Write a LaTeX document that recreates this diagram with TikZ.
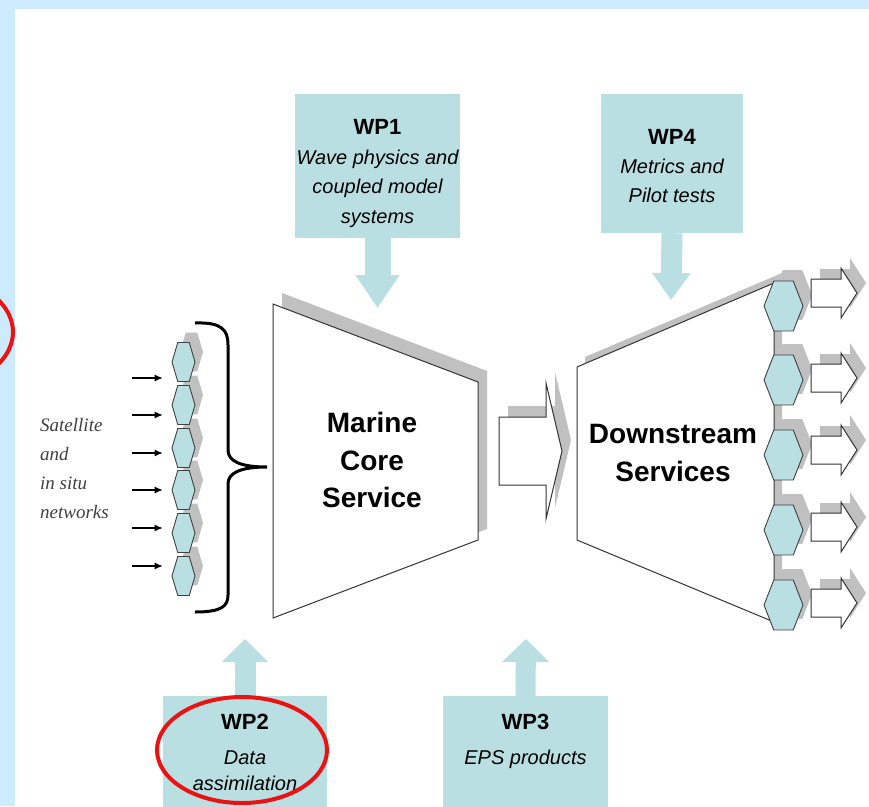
\documentclass[tikz,border=0pt]{standalone}
\usepackage{fontspec}
\setmainfont{Liberation Sans}
\newfontfamily\netfont{Liberation Serif}
\usetikzlibrary{arrows.meta,shapes.geometric,calc}

\definecolor{wpteal}{RGB}{186,223,227}
\definecolor{framebg}{RGB}{204,235,255}
\definecolor{shadowgray}{RGB}{192,192,192}
\definecolor{ringred}{RGB}{236,18,18}
\newcommand{\wptitle}[1]{{\upshape\bfseries\fontsize{22}{27}\selectfont #1}}

\begin{document}
\begin{tikzpicture}[
  x=1pt, y=-1pt,
  wpbox/.style={fill=wpteal, align=center, inner sep=2pt, font=\fontsize{20}{29.5}\selectfont\itshape},
  bigtxt/.style={align=center, inner sep=0pt, font=\fontsize{28}{37.5}\selectfont\bfseries},
  nettext/.style={align=left, inner sep=0pt, text=black!75, font=\netfont\itshape\fontsize{19}{29}\selectfont},
  outline/.style={draw=black!80, line width=1pt, fill=white},
  bighex/.style={regular polygon, regular polygon sides=6, minimum size=57.7pt, inner sep=0pt, xscale=0.676},
  smallhex/.style={regular polygon, regular polygon sides=6, minimum size=45pt, inner sep=0pt, xscale=0.511},
  hexcol/.style={fill=wpteal, draw=black!75, line width=0.9pt},
  feed/.style={-{Latex[length=8pt,width=7pt]}, line width=1.2pt, shorten >=9pt},
  brace/.style={line width=3pt},
  ring/.style={draw=ringred, line width=4pt}
]
\useasboundingbox (0,0) rectangle (869,806);
\clip (0,0) rectangle (869,806);
% frame
\fill[framebg] (0,0) rectangle (869,806);
\fill[white] (15,9) rectangle (869,806);
\draw[ring] (-72,332) ellipse [x radius=85, y radius=57];

% work packages
\node[wpbox, minimum width=163pt, minimum height=144pt] (wp1) at (377.5,166)
  {\rule{0pt}{30pt}\wptitle{WP1}\\Wave physics and\\coupled model\\systems};
\node[wpbox, minimum width=142pt, minimum height=139pt, font=\fontsize{20}{29}\selectfont\itshape] (wp4) at (672,163.5)
  {\rule{0pt}{20.8pt}\wptitle{WP4}\\Metrics and\\Pilot tests};
\node[wpbox, anchor=north, minimum width=164pt, inner ysep=18pt, text depth=70pt,
  font=\fontsize{20}{26.5}\selectfont\itshape] (wp2) at (245,696)
  {\wptitle{WP2}\\[8pt]Data\\assimilation};
\node[wpbox, anchor=north, minimum width=165pt, inner ysep=18pt, text depth=70pt,
  font=\fontsize{20}{26.5}\selectfont\itshape] (wp3) at (525.5,696)
  {\wptitle{WP3}\\[8pt]EPS products};

\coordinate (mcs-in) at (377.5,308);
\coordinate (dss-in) at (671,300);
\coordinate (da-in) at (245,639);
\coordinate (eps-in) at (526,639);
\draw[draw=wpteal, line width=26pt, -{Triangle[length=33pt,width=42pt]}] (wp1.south) -- (mcs-in);
\draw[draw=wpteal, line width=21pt, -{Triangle[length=27pt,width=37pt]}] (wp4.south) -- (dss-in);
\draw[draw=wpteal, line width=21pt, -{Triangle[length=23pt,width=45pt]}] (wp2.north) -- (da-in);
\draw[draw=wpteal, line width=20pt, -{Triangle[length=23pt,width=46pt]}] (wp3.north) -- (eps-in);

% marine core service
\fill[shadowgray, shift={(9,-11)}] (273,304) -- (478,382) -- (478,540) -- (273,618) -- cycle;
\draw[outline] (273,304) -- (478,382) -- (478,540) -- (273,618) -- cycle;
\node[bigtxt] (mcs) at (372,460) {Marine\\Core\\Service};

% flow to downstream
\fill[shadowgray, shift={(9,-11)}] (499,417) -- (546,417) -- (546,383) -- (562,451) -- (546,519) -- (546,485) -- (499,485) -- cycle;
\draw[outline] (499,417) -- (546,417) -- (546,383) -- (562,451) -- (546,519) -- (546,485) -- (499,485) -- cycle;

% downstream services
\fill[shadowgray, shift={(8,-10)}] (577,367) -- (774,283) -- (774,622) -- (577,540) -- cycle;
\draw[outline] (577,367) -- (774,283) -- (774,622) -- (577,540) -- cycle;
\node[bigtxt] (dss) at (673,453) {Downstream\\Services};

\foreach \i/\y in {1/306,2/380,3/455,4/530,5/605}
  \node[bighex, fill=shadowgray] (rs\i) at (792.5,\y-11) {};
\foreach \i/\y in {1/306,2/380,3/455,4/530,5/605}
  \node[bighex, hexcol] (rh\i) at (783.5,\y) {};
\foreach \y in {293,378,450,527,603} {
  \fill[shadowgray, shift={(9,-10)}] (811,\y-14) -- (841,\y-14) -- (841,\y-25) -- (857,\y) -- (841,\y+25) -- (841,\y+14) -- (811,\y+14) -- cycle;
  \draw[outline] (811,\y-14) -- (841,\y-14) -- (841,\y-25) -- (857,\y) -- (841,\y+25) -- (841,\y+14) -- (811,\y+14) -- cycle;
}

% observing networks
\foreach \i/\y in {1/362,2/405,3/448,4/490,5/533,6/576}
  \node[smallhex, fill=shadowgray] (ls\i) at (191.5,\y-10) {};
\foreach \i/\y in {1/362,2/405,3/448,4/490,5/533,6/576}
  \node[smallhex, hexcol] (lh\i) at (183.5,\y) {};
\foreach \i/\y in {1/378,2/415,3/453,4/490,5/528,6/566} {
  \coordinate (src\i) at (132,\y);
  \draw[feed] (src\i) -- (src\i -| lh1.west);
}
\draw[brace] (195,323) .. controls (222,322) and (228,330) .. (228,345) -- (228,450)
  .. controls (228,461) and (240,467) .. (267,467)
  .. controls (240,467) and (228,473) .. (228,484) -- (228,595)
  .. controls (228,606) and (222,612) .. (195,612);
\node[nettext, anchor=west] (net) at (40,468) {Satellite\\and\\in situ\\networks};

\draw[ring] (242,750) ellipse [x radius=85, y radius=53];
\end{tikzpicture}
\end{document}
